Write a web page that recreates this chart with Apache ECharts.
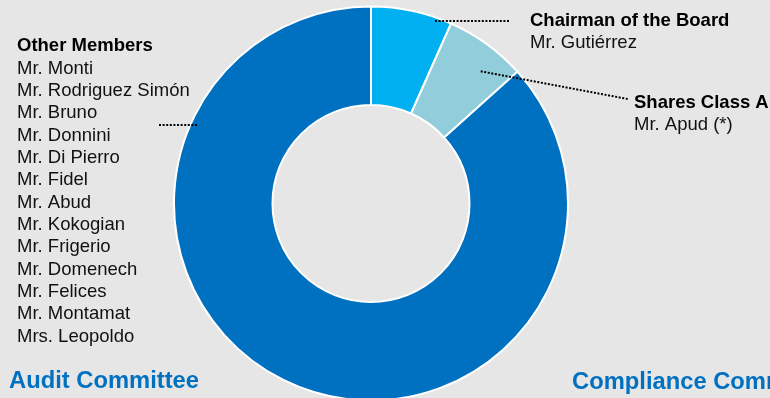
<!DOCTYPE html>
<html>
<head>
<meta charset="utf-8">
<script src="https://cdn.jsdelivr.net/npm/echarts@6/dist/echarts.min.js"></script>
<style>
  html, body { margin: 0; padding: 0; background: #e6e6e6; }
  #chart { width: 770px; height: 398px; }
</style>
</head>
<body>
<div id="chart"></div>
<script>
// Board composition: seats per group, clockwise from 12 o'clock
const groups = ['Chairman of the Board', 'Shares Class A', 'Other Members'];
const seats = [1, 1, 13];
const members = [
  ['Mr. Gutiérrez'],
  ['Mr. Apud (*)'],
  ['Mr. Monti', 'Mr. Rodriguez Simón', 'Mr. Bruno', 'Mr. Donnini', 'Mr. Di Pierro',
   'Mr. Fidel', 'Mr. Abud', 'Mr. Kokogian', 'Mr. Frigerio', 'Mr. Domenech',
   'Mr. Felices', 'Mr. Montamat', 'Mrs. Leopoldo']
];
const committees = ['Audit Committee', 'Compliance Committee'];

const sliceColors = ['#00b0f0', '#92cddc', '#0070c0'];
const FONT = '"Liberation Sans", Arial, Helvetica, sans-serif';

// Where each group's caption sits and where its dotted leader runs
const captionSpots = [
  { x: 530, y: 9.5,  line: [[435, 21], [509, 21]] },
  { x: 634, y: 91.7, line: [[480.7, 71.3], [629.3, 99.3]] },
  { x: 17,  y: 35,   line: [[159, 125], [197, 125]] }
];

const ringGeometry = { center: [371, 203.5], radius: [98.5, 197], startAngle: 90, clockwise: true };

const sliceData = groups.map((g, i) => ({
  name: g,
  value: seats[i],
  itemStyle: { color: sliceColors[i] }
}));

const chart = echarts.init(document.getElementById('chart'), null, { renderer: 'canvas' });

chart.setOption({
  backgroundColor: '#e6e6e6',
  animation: false,
  title: [
    {
      text: committees[0], left: 9, top: 369, padding: 0,
      textStyle: { color: '#0070c0', fontSize: 23.75, fontWeight: 'bold', fontFamily: FONT }
    },
    {
      text: committees[1], left: 572, top: 370, padding: 0,
      textStyle: { color: '#0070c0', fontSize: 23.75, fontWeight: 'bold', fontFamily: FONT }
    }
  ],
  series: [
    // the ring itself
    Object.assign({
      type: 'pie',
      silent: true,
      emphasis: { disabled: true },
      itemStyle: { borderColor: '#ffffff', borderWidth: 2 },
      label: { show: false },
      labelLine: { show: false },
      data: sliceData
    }, ringGeometry),
    // captions with dotted leaders, layered over the ring
    Object.assign({
      type: 'pie',
      z: 3,
      silent: true,
      avoidLabelOverlap: false,
      emphasis: { disabled: true },
      itemStyle: { color: 'rgba(0,0,0,0)', borderWidth: 0 },
      label: {
        show: true,
        position: 'outside',
        color: '#000',
        fontFamily: FONT,
        formatter: p => {
          const names = members[p.dataIndex].map(n => '{n|' + n + '}').join('\n');
          return '{t|' + p.name + '}\n' + names;
        },
        rich: {
          t: { fontSize: 18.5, fontWeight: 'bold', lineHeight: 22.35, color: '#000', fontFamily: FONT },
          n: { fontSize: 18.5, lineHeight: 22.35, color: '#111', fontFamily: FONT }
        }
      },
      labelLine: {
        show: true,
        lineStyle: { color: '#000', width: 2, type: [2, 1.6] }
      },
      labelLayout: params => {
        const s = captionSpots[params.dataIndex];
        const a = s.line[0], b = s.line[1];
        return {
          x: s.x, y: s.y, align: 'left', verticalAlign: 'top',
          labelLinePoints: [a, [(a[0] + b[0]) / 2, (a[1] + b[1]) / 2], b]
        };
      },
      data: groups.map((g, i) => ({ name: g, value: seats[i] }))
    }, ringGeometry)
  ]
});
</script>
</body>
</html>
